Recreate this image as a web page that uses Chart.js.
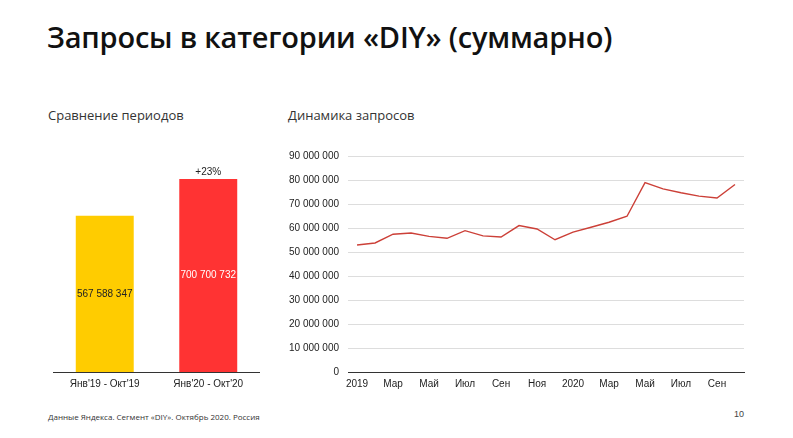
<!DOCTYPE html>
<html lang="ru">
<head>
<meta charset="utf-8">
<title>Запросы в категории «DIY»</title>
<script src="https://cdn.jsdelivr.net/npm/chart.js@4.4.0/dist/chart.umd.min.js"></script>
<style>
  html, body { margin: 0; padding: 0; background: #fff; }
  body { width: 793px; height: 438px; position: relative; overflow: hidden; font-family: "Open Sans", "Noto Sans", sans-serif; color: #111; }
  .title { position: absolute; left: 47px; top: 17px; font-size: 29px; font-weight: 600; letter-spacing: -0.2px; }
  .sub { position: absolute; top: 106px; font-size: 13px; color: #333; }
  .foot { position: absolute; left: 48px; top: 411px; font-size: 8px; color: #333; }
  .page { position: absolute; left: 734px; top: 409px; font-size: 9px; color: #444; font-family: "Liberation Sans", Arial, sans-serif; }
  canvas { position: absolute; }
  #barChart { left: 53px; top: 148px; }
  #lineChart { left: 280px; top: 141px; }
</style>
</head>
<body>
<div class="title">Запросы в категории «DIY» (суммарно)</div>
<div class="sub" style="left:48px">Сравнение периодов</div>
<div class="sub" style="left:288px">Динамика запросов</div>
<canvas id="barChart" width="207" height="248"></canvas>
<canvas id="lineChart" width="475" height="255"></canvas>
<div class="foot">Данные Яндекса. Сегмент «DIY». Октябрь 2020. Россия</div>
<div class="page">10</div>

<script>
// periods comparison
let periodLabels = ["Янв'19 - Окт'19", "Янв'20 - Окт'20"];
let periodTotals = [567588347, 700700732];
let periodColors = ['#ffcc00', '#ff3333'];
let periodTextColors = ['#222', '#ffffff'];
let growthLabel = '+23%';

// monthly dynamics, Jan 2019 - Oct 2020
let monthLabels = [
    'Янв 2019', 'Фев', 'Мар', 'Апр', 'Май', 'Июн', 'Июл', 'Авг', 'Сен', 'Окт', 'Ноя', 'Дек',
    'Янв 2020', 'Фев', 'Мар', 'Апр', 'Май', 'Июн', 'Июл', 'Авг', 'Сен', 'Окт'
];
let monthTickLabels = [
    '2019', '', 'Мар', '', 'Май', '', 'Июл', '', 'Сен', '', 'Ноя', '',
    '2020', '', 'Мар', '', 'Май', '', 'Июл', '', 'Сен', ''
];
let monthlyRequests = [
    52900000, 53750000, 57400000, 57900000, 56500000, 55700000, 58900000, 56700000, 56250000, 61000000, 59600000, 55100000,
    58300000, 60300000, 62400000, 64900000, 78900000, 76300000, 74700000, 73300000, 72500000, 78100000
];

Chart.defaults.font.family = '"Liberation Sans", Arial, sans-serif';
Chart.defaults.font.size = 10;
Chart.defaults.color = '#222';

function fmt(n) {
    return String(n).replace(/\B(?=(\d{3})+(?!\d))/g, ' ');
}

// draws value inside each bar and growth above the second
const barLabels = {
    id: 'barLabels',
    afterDatasetsDraw(chart) {
        const c = chart.ctx;
        const meta = chart.getDatasetMeta(0);
        c.save();
        c.font = '10px "Liberation Sans", Arial, sans-serif';
        c.textAlign = 'center';
        c.textBaseline = 'middle';
        meta.data.forEach((bar, i) => {
            c.fillStyle = periodTextColors[i];
            c.fillText(fmt(periodTotals[i]), bar.x, (bar.y + bar.base) / 2);
        });
        const last = meta.data[meta.data.length - 1];
        c.fillStyle = '#222';
        c.textBaseline = 'bottom';
        c.fillText(growthLabel, last.x, last.y - 2);
        c.restore();
    }
};

new Chart(document.getElementById('barChart'), {
    type: 'bar',
    data: {
        labels: periodLabels,
        datasets: [{
            data: periodTotals,
            backgroundColor: periodColors,
            categoryPercentage: 1,
            barPercentage: 0.56
        }]
    },
    options: {
        responsive: false,
        animation: false,
        layout: { padding: { top: 7 } },
        plugins: { legend: { display: false }, tooltip: { enabled: false } },
        scales: {
            x: {
                grid: { display: false, drawTicks: false },
                border: { color: '#333', width: 1 },
                ticks: { padding: 6, color: '#222' }
            },
            y: { display: false, min: 0, max: 788000000 }
        }
    },
    plugins: [barLabels]
});

new Chart(document.getElementById('lineChart'), {
    type: 'line',
    data: {
        labels: monthLabels,
        datasets: [{
            data: monthlyRequests,
            borderColor: '#cc4038',
            borderWidth: 1.4,
            pointRadius: 0,
            tension: 0,
            fill: false
        }]
    },
    options: {
        responsive: false,
        animation: false,
        layout: { padding: { right: 11 } },
        plugins: { legend: { display: false }, tooltip: { enabled: false } },
        scales: {
            x: {
                offset: true,
                grid: { display: false, drawTicks: false },
                border: { color: '#333', width: 1 },
                ticks: {
                    autoSkip: false,
                    maxRotation: 0,
                    padding: 6,
                    color: '#222',
                    callback: (v, i) => monthTickLabels[i]
                }
            },
            y: {
                min: 0,
                max: 90000000,
                ticks: { stepSize: 10000000, padding: 9, color: '#222', callback: v => fmt(v) },
                border: { display: false },
                grid: {
                    drawTicks: false,
                    color: ctx => ctx.tick && ctx.tick.value === 0 ? '#333' : '#dddddd'
                }
            }
        }
    }
});
</script>
</body>
</html>
